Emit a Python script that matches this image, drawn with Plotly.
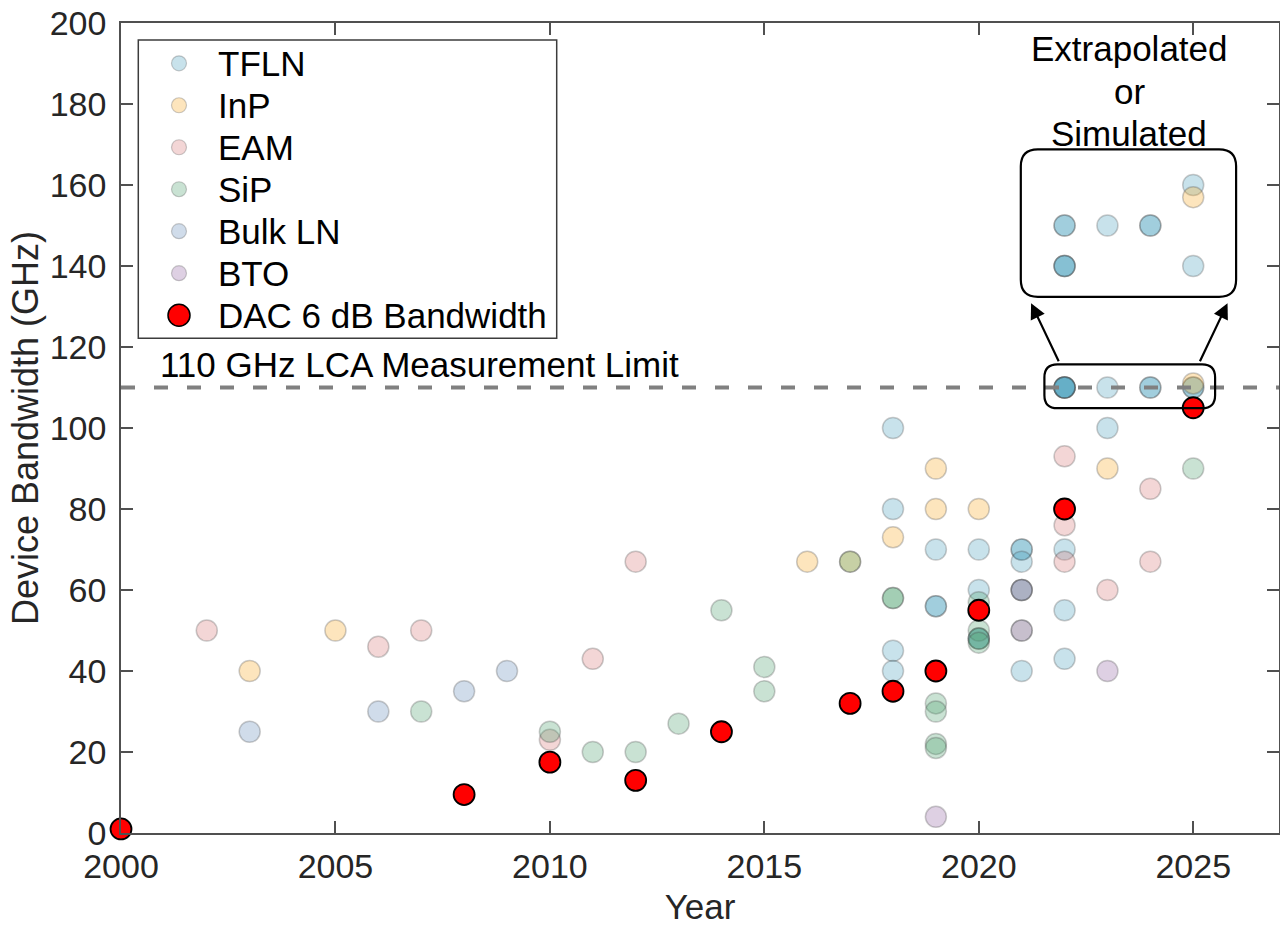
import plotly.graph_objects as go

FONT = "Liberation Sans, Arial, sans-serif"

# ---------------- data ----------------
tfln_year = [2018, 2018, 2018, 2018,
             2019, 2019, 2019,
             2020, 2020, 2020, 2020,
             2021, 2021, 2021, 2021, 2021,
             2022, 2022, 2022,
             2023,
             2022, 2022, 2022, 2022, 2022, 2023, 2024, 2024, 2025, 2025,
             2022, 2022, 2022, 2022, 2022, 2023, 2024, 2024, 2025, 2025]
tfln_bw = [100, 80, 45, 40,
           70, 56, 56,
           70, 60, 48, 48,
           70, 70, 67, 60, 40,
           70, 55, 43,
           100,
           110, 110, 110, 110, 110, 110, 110, 110, 110, 110,
           150, 150, 140, 140, 140, 150, 150, 150, 160, 140]

inp_year = [2003, 2005, 2016, 2017, 2018, 2019, 2019, 2020, 2023, 2025, 2025]
inp_bw = [40, 50, 67, 67, 73, 90, 80, 80, 90, 111, 157]

eam_year = [2002, 2006, 2007, 2010, 2011, 2012, 2021, 2021, 2022, 2022, 2022, 2023, 2024, 2024]
eam_bw = [50, 46, 50, 23, 43, 67, 60, 50, 93, 76, 67, 60, 85, 67]

sip_year = [2007, 2010, 2011, 2012, 2013, 2014, 2015, 2015, 2017, 2018, 2018,
            2019, 2019, 2019, 2019, 2020, 2020, 2020, 2020, 2025]
sip_bw = [30, 25, 20, 20, 27, 55, 41, 35, 67, 58, 58,
          32, 30, 22, 21, 57, 50, 48, 47, 90]

bulkln_year = [2003, 2006, 2008, 2009, 2021, 2021]
bulkln_bw = [25, 30, 35, 40, 60, 50]

bto_year = [2019, 2023]
bto_bw = [4, 40]

dac_year = [2000, 2008, 2010, 2012, 2014, 2017, 2018, 2019, 2020, 2022, 2025]
dac_bw = [1, 9.5, 17.5, 13, 25, 32, 35, 40, 55, 80, 105]

x_ticks = [2000, 2005, 2010, 2015, 2020, 2025]
y_ticks = [0, 20, 40, 60, 80, 100, 120, 140, 160, 180, 200]
limit_bw = 110

# ---------------- styles ----------------
ALPHA = 0.3
series = [
    ("TFLN", tfln_year, tfln_bw, (72, 158, 188)),
    ("InP", inp_year, inp_bw, (248, 168, 38)),
    ("EAM", eam_year, eam_bw, (215, 118, 118)),
    ("SiP", sip_year, sip_bw, (75, 158, 108)),
    ("Bulk LN", bulkln_year, bulkln_bw, (98, 138, 185)),
    ("BTO", bto_year, bto_bw, (145, 98, 162)),
]
EDGE = "rgba(70,70,70,0.28)"


def rgba(c, a):
    return f"rgba({c[0]},{c[1]},{c[2]},{a})"


fig = go.Figure()
for name, xs, ys, col in series:
    fig.add_trace(go.Scatter(
        x=xs, y=ys, mode="markers", name=name, showlegend=False,
        cliponaxis=False,
        marker=dict(size=21, color=rgba(col, ALPHA),
                    line=dict(color=EDGE, width=1.5)),
    ))
fig.add_trace(go.Scatter(
    x=dac_year, y=dac_bw, mode="markers", name="DAC 6 dB Bandwidth",
    showlegend=False, cliponaxis=False,
    marker=dict(size=21, color="rgb(255,0,0)",
                line=dict(color="black", width=1.8)),
))

# ---------------- geometry helpers ----------------
PX_PER_YEAR = 42.93
PX_PER_GHZ = 4.053


def rounded_rect(x0, x1, y0, y1, rpx):
    rx = rpx / PX_PER_YEAR
    ry = rpx / PX_PER_GHZ
    return (f"M {x0 + rx},{y1} L {x1 - rx},{y1} Q {x1},{y1} {x1},{y1 - ry} "
            f"L {x1},{y0 + ry} Q {x1},{y0} {x1 - rx},{y0} "
            f"L {x0 + rx},{y0} Q {x0},{y0} {x0},{y0 + ry} "
            f"L {x0},{y1 - ry} Q {x0},{y1} {x0 + rx},{y1} Z")


shapes = []
# 110 GHz dashed limit line
shapes.append(dict(type="line", xref="paper", yref="y", x0=0, x1=1,
                   y0=limit_bw, y1=limit_bw,
                   line=dict(color="rgb(128,128,128)", width=4, dash="14px,19px")))
# inset boxes
shapes.append(dict(type="path", xref="x", yref="y",
                   path=rounded_rect(2020.98, 2026.0, 132.4, 168.8, 17),
                   line=dict(color="black", width=2.2)))
shapes.append(dict(type="path", xref="x", yref="y",
                   path=rounded_rect(2021.53, 2025.51, 104.9, 115.7, 13),
                   line=dict(color="black", width=2.2)))

# ---------------- manual legend ----------------
L, R, T, B = 121, 1279, 23, 833.3
W, H = R - L, B - T


def px(xp):
    return (xp - L) / W


def py(yp):
    return (B - yp) / H


shapes.append(dict(type="rect", xref="paper", yref="paper",
                   x0=px(138.3), x1=px(556.7), y0=py(338.3), y1=py(40),
                   line=dict(color="rgb(60,60,60)", width=1.5),
                   fillcolor="white", layer="below"))

annotations = []
legend_items = [(n, rgba(c, ALPHA), EDGE, 7.5) for n, _, _, c in series]
legend_items.append(("DAC 6 dB Bandwidth", "rgb(255,0,0)", "black", 11))
for i, (name, fill, edge, r) in enumerate(legend_items):
    yc = 63.3 + 42 * i
    shapes.append(dict(type="circle", xref="paper", yref="paper",
                       xsizemode="pixel", ysizemode="pixel",
                       xanchor=px(179), yanchor=py(yc),
                       x0=-r, x1=r, y0=-r, y1=r,
                       fillcolor=fill,
                       line=dict(color=edge, width=1.5 if r > 8 else 1.2)))
    annotations.append(dict(xref="paper", yref="paper", x=px(216), y=py(yc),
                            xanchor="left", yanchor="middle", showarrow=False,
                            text=name, font=dict(family=FONT, size=35, color="black")))

# ---------------- text annotations ----------------
annotations.append(dict(xref="paper", yref="paper", x=px(158), y=py(365),
                        xanchor="left", yanchor="middle", showarrow=False,
                        text="110 GHz LCA Measurement Limit",
                        font=dict(family=FONT, size=35, color="black")))
for line_text, yc in [("Extrapolated", 49), ("or", 91.5), ("Simulated", 134)]:
    annotations.append(dict(xref="paper", yref="paper", x=px(1129), y=py(yc),
                            xanchor="center", yanchor="middle", showarrow=False,
                            text=line_text,
                            font=dict(family=FONT, size=35, color="black")))
# arrows
for (hx, hy, tx, ty) in [(2021.22, 130.8, 2021.88, 116.1),
                         (2025.80, 130.8, 2025.14, 116.1)]:
    annotations.append(dict(x=hx, y=hy, ax=tx, ay=ty, xref="x", yref="y",
                            axref="x", ayref="y", text="", showarrow=True,
                            arrowhead=2, arrowsize=1.4, arrowwidth=2.2,
                            arrowcolor="black", standoff=0))

fig.update_layout(
    width=1280, height=926,
    margin=dict(l=L, r=1280 - R, t=T, b=926 - B),
    paper_bgcolor="white", plot_bgcolor="white",
    font=dict(family=FONT, size=34, color="rgb(38,38,38)"),
    shapes=shapes, annotations=annotations,
    showlegend=False,
)
fig.update_xaxes(
    range=[2000, 2027], tickvals=x_ticks, ticktext=[str(v) for v in x_ticks],
    ticks="inside", ticklen=12, tickwidth=1.5, tickcolor="rgb(80,80,80)",
    showline=True, linecolor="rgb(80,80,80)", linewidth=1.5, mirror="allticks",
    showgrid=False, zeroline=False, ticklabelstandoff=2,
    tickfont=dict(family=FONT, size=34, color="rgb(38,38,38)"),
    title=dict(text="Year", font=dict(family=FONT, size=35, color="rgb(38,38,38)"),
               standoff=15),
    automargin=False,
)
fig.update_yaxes(
    range=[0, 200], tickvals=y_ticks,
    ticks="inside", ticklen=12, tickwidth=1.5, tickcolor="rgb(80,80,80)",
    showline=True, linecolor="rgb(80,80,80)", linewidth=1.5, mirror="allticks",
    showgrid=False, zeroline=False, ticklabelstandoff=6,
    tickfont=dict(family=FONT, size=34, color="rgb(38,38,38)"),
    title=dict(text="Device Bandwidth (GHz)",
               font=dict(family=FONT, size=36, color="rgb(38,38,38)"), standoff=0),
    automargin=False,
)

fig.write_html(
    "out.html",
    config={"displayModeBar": False},
    post_script="document.body.style.margin='0px';document.body.style.overflow='hidden';",
)
